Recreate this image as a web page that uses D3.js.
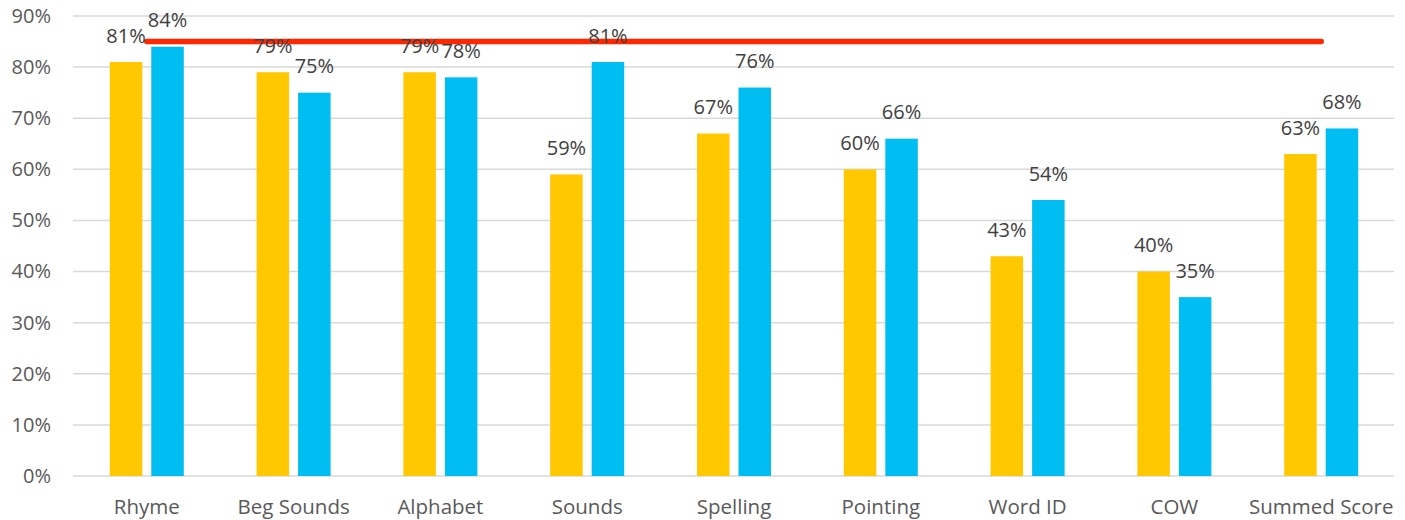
<!DOCTYPE html>
<html><head><meta charset="utf-8">
<script src="https://cdn.jsdelivr.net/npm/d3@7"></script>
<style>body{margin:0;background:#fff;} text{font-family:"Open Sans",sans-serif;}</style>
</head><body><svg id="c" width="1405" height="520"></svg>
<script>
const categories = ["Rhyme","Beg Sounds","Alphabet","Sounds","Spelling","Pointing","Word ID","COW","Summed Score"];
const seriesA = [81,79,79,59,67,60,43,40,63];
const seriesB = [84,75,78,81,76,66,54,35,68];
const target = 85;
const yTicks = [0,10,20,30,40,50,60,70,80,90];

const svg = d3.select("#c");
const x = d3.scaleBand().domain(categories).range([73.4,1394.6]).paddingInner(0).paddingOuter(0);
const y = d3.scaleLinear().domain([0,90]).range([476,16]);
const bw = 32.5, gap = 9;

// gridlines
svg.append("g").selectAll("line").data(yTicks).join("line")
  .attr("x1",73).attr("x2",1394).attr("y1",d=>y(d)).attr("y2",d=>y(d))
  .attr("stroke","#d9d9d9").attr("stroke-width",1.5);

// y labels
const yAxis = d3.axisLeft(y).tickValues(yTicks).tickFormat(d=>d+"%").tickSize(0).tickPadding(0);
const ya = svg.append("g").attr("transform","translate(51,0)").call(yAxis);
ya.select(".domain").remove();
ya.selectAll("text").attr("fill","#595959").style("font-size","20px").style("font-family","'Open Sans',sans-serif");

// x labels
const xAxis = d3.axisBottom(x).tickSize(0).tickPadding(0);
const xa = svg.append("g").attr("transform","translate(0,514)").call(xAxis);
xa.select(".domain").remove();
xa.selectAll("text").attr("fill","#595959").style("font-size","20.5px").style("font-family","'Open Sans',sans-serif").attr("dy","0").attr("y",0);

const cx = c => x(c) + x.bandwidth()/2;
const xA = c => cx(c) - gap/2 - bw;
const xB = c => cx(c) + gap/2;

svg.append("g").selectAll("rect").data(categories).join("rect")
  .attr("x",c=>xA(c)).attr("width",bw)
  .attr("y",(c,i)=>y(seriesA[i])).attr("height",(c,i)=>y(0)-y(seriesA[i]))
  .attr("fill","#FFC800");
svg.append("g").selectAll("rect").data(categories).join("rect")
  .attr("x",c=>xB(c)).attr("width",bw)
  .attr("y",(c,i)=>y(seriesB[i])).attr("height",(c,i)=>y(0)-y(seriesB[i]))
  .attr("fill","#00BEF2");

// target line
svg.append("line")
  .attr("x1",cx(categories[0])).attr("x2",cx(categories[categories.length-1]))
  .attr("y1",y(target)).attr("y2",y(target))
  .attr("stroke","#FF2600").attr("stroke-width",5.5).attr("stroke-linecap","round");

// labels
const lg = svg.append("g").style("font-size","20px").attr("fill","#404040").attr("text-anchor","middle");
lg.selectAll("text.a").data(categories).join("text").attr("class","a")
  .attr("x",c=>xA(c)+bw/2).attr("y",(c,i)=>y(seriesA[i])-19.5).text((c,i)=>seriesA[i]+"%");
lg.selectAll("text.b").data(categories).join("text").attr("class","b")
  .attr("x",c=>xB(c)+bw/2).attr("y",(c,i)=>y(seriesB[i])-19.5).text((c,i)=>seriesB[i]+"%");
</script></body></html>
